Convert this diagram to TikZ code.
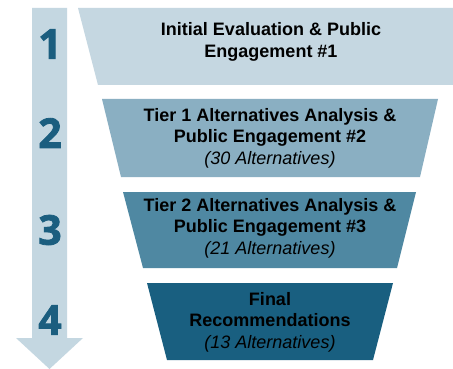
\documentclass[tikz,border=0pt]{standalone}
\usepackage{fontspec}
\setmainfont{Liberation Sans}
\newfontfamily\numfont[BoldFeatures={FakeBold=2}]{Open Sans}
\definecolor{arrowc}{HTML}{C4D7E1}
\definecolor{numc}{HTML}{1B5E7F}
\definecolor{tA}{HTML}{C5D7E1}
\definecolor{tB}{HTML}{8AAFC2}
\definecolor{tC}{HTML}{4F88A2}
\definecolor{tD}{HTML}{195F80}
\tikzset{
  numlbl/.style={font=\numfont\bfseries\fontsize{41}{41}\selectfont, text=numc, inner sep=0pt},
  stagetxt/.style={font=\bfseries\fontsize{18}{21.5}\selectfont, align=center, inner sep=0pt, text=black}
}
\begin{document}
\begin{tikzpicture}[x=1pt,y=-1pt]
\useasboundingbox (0,0) rectangle (453,369);
\fill[white] (0,0) rectangle (453,369);
% big arrow
\fill[arrowc] (32,8) -- (67,8) -- (67,338) -- (83,338) -- (49.5,369) -- (16,338) -- (32,338) -- cycle;
\node[numlbl] (n1) at (50,44) {1};
\node[numlbl] (n2) at (50,133) {2};
\node[numlbl] (n3) at (50,230) {3};
\node[numlbl] (n4) at (50,320) {4};
% funnel stages
\fill[tA] (78,8) -- (473,8) -- (453,85) -- (98,85) -- cycle;
\fill[tB] (102,99) -- (438,99) -- (420,177) -- (121,177) -- cycle;
\fill[tC] (123,192) -- (416,192) -- (397,268) -- (143,268) -- cycle;
\fill[tD] (147,283) -- (393,283) -- (373,360) -- (167,360) -- cycle;
\node[stagetxt] (s1) at (271,42) {Initial Evaluation \& Public\\Engagement \#1};
\node[stagetxt] (s2) at (270,138) {Tier 1 Alternatives Analysis \&\\Public Engagement \#2\\{\itshape\mdseries (30 Alternatives)}};
\node[stagetxt] (s3) at (270,228) {Tier 2 Alternatives Analysis \&\\Public Engagement \#3\\{\itshape\mdseries (21 Alternatives)}};
\node[stagetxt] (s4) at (270,322) {Final\\Recommendations\\{\itshape\mdseries (13 Alternatives)}};
\end{tikzpicture}
\end{document}
